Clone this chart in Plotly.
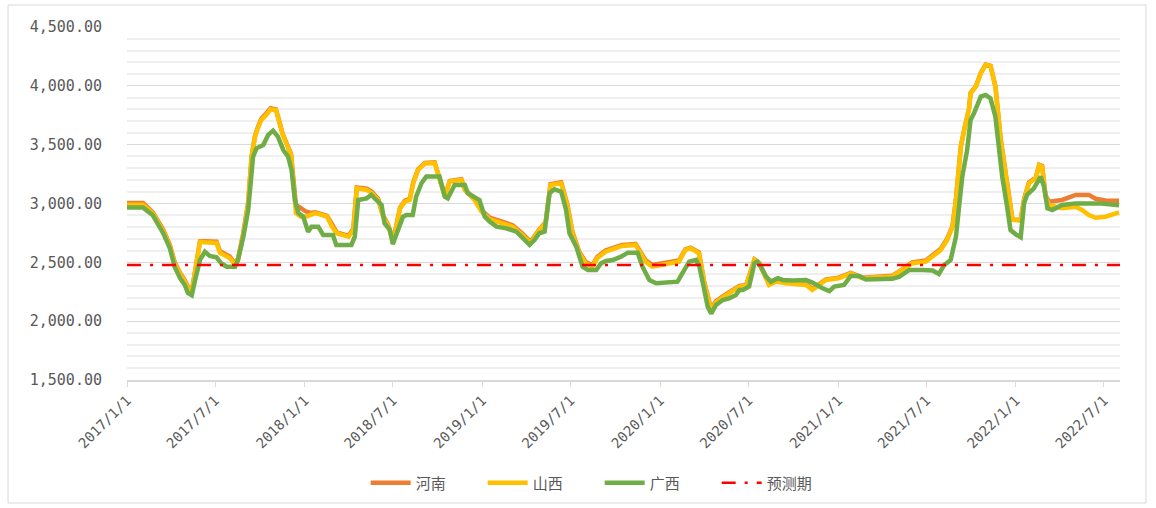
import plotly.graph_objects as go

# ---- data ----
gx_dates = ["2017-01-01","2017-02-03","2017-02-23","2017-03-16","2017-03-30","2017-04-09","2017-04-20","2017-04-30",
            "2017-05-06","2017-05-14","2017-05-21","2017-05-31","2017-06-10","2017-06-20","2017-07-04","2017-07-14",
            "2017-07-25","2017-08-11","2017-08-17","2017-08-28","2017-09-07","2017-09-17","2017-09-24","2017-10-08",
            "2017-10-18","2017-10-28","2017-11-07","2017-11-18","2017-11-28","2017-12-05","2017-12-12","2017-12-19",
            "2017-12-29","2018-01-08","2018-01-15","2018-01-29","2018-02-08","2018-02-28","2018-03-07","2018-04-07",
            "2018-04-14","2018-04-21","2018-05-08","2018-05-18","2018-05-28","2018-06-08","2018-06-14","2018-06-25",
            "2018-07-01","2018-07-12","2018-07-22","2018-07-29","2018-08-11","2018-08-18","2018-08-29","2018-09-08",
            "2018-10-05","2018-10-16","2018-10-22","2018-11-05","2018-11-26","2018-12-02","2018-12-16","2018-12-26",
            "2019-01-06","2019-01-16","2019-01-30","2019-02-19","2019-03-12","2019-03-29","2019-04-08","2019-04-18",
            "2019-04-28","2019-05-09","2019-05-19","2019-05-29","2019-06-12","2019-06-22","2019-06-29","2019-07-13",
            "2019-07-26","2019-08-06","2019-08-23","2019-09-02","2019-09-12","2019-09-26","2019-10-13","2019-10-27",
            "2019-11-16","2019-11-26","2019-12-10","2019-12-24","2020-02-06","2020-02-20","2020-03-01","2020-03-15",
            "2020-03-22","2020-04-01","2020-04-08","2020-04-15","2020-04-25","2020-05-09","2020-05-22","2020-06-05",
            "2020-06-12","2020-06-19","2020-07-02","2020-07-13","2020-07-19","2020-07-26","2020-08-06","2020-08-16",
            "2020-08-30","2020-09-09","2020-09-29","2020-10-27","2020-11-09","2020-11-30","2020-12-14","2020-12-24",
            "2021-01-13","2021-01-27","2021-02-13","2021-02-27","2021-04-22","2021-05-06","2021-05-27","2021-06-23",
            "2021-07-14","2021-07-27","2021-08-07","2021-08-20","2021-08-31","2021-09-05","2021-09-13","2021-09-23",
            "2021-09-30","2021-10-07","2021-10-21","2021-10-31","2021-11-10","2021-11-20","2021-11-27","2021-12-04",
            "2021-12-14","2021-12-21","2022-01-01","2022-01-11","2022-01-18","2022-01-24","2022-02-07","2022-02-21",
            "2022-02-28","2022-03-07","2022-03-17","2022-04-06","2022-05-04","2022-06-21","2022-08-01"]
guangxi = [2965,2965,2900,2750,2620,2460,2365,2305,
           2240,2220,2350,2520,2590,2555,2543,2490,
           2463,2463,2520,2718,2945,3398,3469,3497,
           3583,3619,3568,3455,3398,3285,3030,2920,
           2888,2760,2803,2803,2733,2733,2648,2648,
           2718,3030,3043,3073,3030,2988,2832,2775,
           2655,2775,2888,2902,2902,3058,3172,3229,
           3229,3058,3043,3158,3158,3087,3058,3030,
           2888,2846,2803,2789,2761,2690,2648,2690,
           2747,2761,3087,3121,3101,2945,2747,2633,
           2463,2435,2435,2492,2512,2520,2548,2582,
           2582,2463,2350,2322,2336,2435,2506,2520,
           2463,2265,2123,2065,2137,2180,2194,2222,
           2265,2265,2294,2492,2506,2463,2379,2336,
           2365,2350,2345,2350,2328,2280,2256,2294,
           2308,2384,2384,2355,2360,2375,2435,2435,
           2430,2401,2478,2520,2718,2917,3229,3455,
           3710,3767,3909,3923,3894,3738,3455,3229,
           2973,2775,2738,2713,3001,3073,3129,3229,
           3143,2959,2945,2988,3001,3001,2985]

sx_dates = ["2017-01-01","2017-02-03","2017-02-23","2017-03-16","2017-03-30","2017-04-09","2017-04-20","2017-04-30",
            "2017-05-08","2017-05-15","2017-05-21","2017-05-31","2017-06-10","2017-07-04","2017-07-11","2017-07-31",
            "2017-08-11","2017-08-17","2017-08-28","2017-09-07","2017-09-14","2017-09-21","2017-09-27","2017-10-04",
            "2017-10-14","2017-10-23","2017-11-03","2017-11-10","2017-11-17","2017-11-27","2017-12-04","2017-12-14",
            "2017-12-24","2018-01-03","2018-01-12","2018-01-23","2018-02-16","2018-02-26","2018-03-08","2018-04-01",
            "2018-04-11","2018-04-18","2018-05-09","2018-05-19","2018-06-01","2018-06-11","2018-06-22","2018-06-28",
            "2018-07-02","2018-07-16","2018-07-26","2018-08-05","2018-08-12","2018-08-22","2018-09-05","2018-09-25",
            "2018-10-06","2018-10-16","2018-10-26","2018-11-19","2018-11-26","2018-12-16","2018-12-30","2019-01-16",
            "2019-02-11","2019-03-04","2019-03-24","2019-04-10","2019-04-28","2019-05-11","2019-05-21","2019-06-12",
            "2019-06-25","2019-07-05","2019-07-19","2019-08-01","2019-08-15","2019-08-25","2019-09-11","2019-10-02",
            "2019-10-15","2019-11-12","2019-11-22","2019-12-02","2019-12-16","2020-01-05","2020-02-09","2020-02-22",
            "2020-03-04","2020-03-21","2020-03-28","2020-04-01","2020-04-15","2020-04-25","2020-05-16","2020-06-12",
            "2020-06-26","2020-07-13","2020-07-23","2020-08-12","2020-08-26","2020-09-16","2020-10-27","2020-11-09",
            "2020-12-07","2021-01-02","2021-01-27","2021-02-20","2021-04-22","2021-05-13","2021-06-02","2021-06-30",
            "2021-07-21","2021-07-31","2021-08-13","2021-08-24","2021-08-31","2021-09-10","2021-09-17","2021-09-27",
            "2021-09-30","2021-10-11","2021-10-21","2021-10-31","2021-11-10","2021-11-20","2021-12-01","2021-12-11",
            "2021-12-21","2021-12-25","2022-01-11","2022-01-18","2022-01-28","2022-02-11","2022-02-18","2022-02-24",
            "2022-03-03","2022-03-10","2022-04-06","2022-05-04","2022-05-17","2022-05-31","2022-06-14","2022-07-04",
            "2022-08-01"]
shanxi = [2990,2990,2915,2770,2640,2490,2400,2335,
          2265,2270,2420,2675,2670,2665,2580,2537,
          2478,2520,2740,3000,3398,3568,3642,3710,
          3752,3800,3795,3684,3582,3483,3412,2918,
          2888,2888,2900,2918,2888,2803,2747,2718,
          2775,3129,3115,3087,3030,2888,2803,2718,
          2676,2959,3016,3030,3172,3285,3341,3345,
          3200,3058,3186,3200,3115,3030,2934,2868,
          2832,2803,2733,2662,2775,2832,3158,3172,
          2973,2747,2577,2492,2463,2534,2591,2619,
          2639,2648,2577,2506,2463,2478,2506,2605,
          2620,2577,2400,2322,2095,2160,2222,2294,
          2300,2520,2490,2308,2336,2322,2308,2265,
          2350,2365,2406,2365,2379,2435,2492,2506,
          2577,2605,2690,2803,3030,3483,3625,3809,
          3937,3994,4108,4178,4169,3994,3540,3229,
          2945,2860,2855,3030,3172,3214,3328,3313,
          3058,2988,2959,2973,2945,2902,2879,2888,
          2925]
henan = [3005,3005,2925,2780,2650,2500,2410,2345,
         2275,2280,2430,2680,2680,2675,2595,2550,
         2490,2530,2750,3010,3400,3575,3650,3720,
         3765,3810,3800,3690,3590,3490,3420,2988,
         2960,2934,2920,2925,2895,2815,2755,2725,
         2785,3135,3125,3100,3040,2900,2815,2730,
         2690,2965,3025,3040,3180,3290,3345,3350,
         3205,3065,3190,3205,3120,3040,2945,2880,
         2845,2815,2745,2675,2780,2840,3165,3180,
         2985,2760,2590,2505,2475,2545,2600,2630,
         2648,2655,2590,2520,2478,2490,2515,2610,
         2625,2585,2410,2330,2105,2170,2230,2300,
         2305,2525,2495,2315,2342,2330,2315,2275,
         2355,2370,2410,2370,2385,2440,2500,2515,
         2585,2615,2700,2810,3035,3485,3630,3810,
         3940,3998,4110,4180,4170,3998,3545,3235,
         2950,2865,2860,3040,3180,3220,3330,3320,
         3070,3016,3030,3073,3073,3073,3040,3025,
         3023]

forecast_level = 2478
x_start, x_end = "2017-01-01", "2022-08-03"

tick_vals = ["2017-01-01","2017-07-01","2018-01-01","2018-07-01","2019-01-01","2019-07-01",
             "2020-01-01","2020-07-01","2021-01-01","2021-07-01","2022-01-01","2022-07-01"]
tick_text = ["2017/1/1","2017/7/1","2018/1/1","2018/7/1","2019/1/1","2019/7/1",
             "2020/1/1","2020/7/1","2021/1/1","2021/7/1","2022/1/1","2022/7/1"]

# ---- figure ----
fig = go.Figure()
fig.add_trace(go.Scatter(x=sx_dates, y=henan, name="河南", mode="lines",
                         line=dict(color="#ED7D31", width=4.5)))
fig.add_trace(go.Scatter(x=sx_dates, y=shanxi, name="山西", mode="lines",
                         line=dict(color="#FFC000", width=4.5)))
fig.add_trace(go.Scatter(x=gx_dates, y=guangxi, name="广西", mode="lines",
                         line=dict(color="#70AD47", width=4.5)))
fig.add_trace(go.Scatter(x=[x_start, x_end], y=[forecast_level, forecast_level], name="预测期",
                         mode="lines", line=dict(color="#FF0000", width=2.5, dash="14px,9px,3px,9px")))

font_gray = "#595959"
mono = "DejaVu Sans Mono, monospace"
fig.update_layout(
    width=1156, height=508,
    margin=dict(l=127, r=36, t=27, b=128, autoexpand=False),
    paper_bgcolor="white", plot_bgcolor="white",
    font=dict(family="Noto Sans CJK SC, DejaVu Sans, sans-serif", color=font_gray),
    showlegend=True,
    legend=dict(orientation="h", x=0.476, xanchor="center", y=-0.292, yanchor="middle",
                font=dict(size=15, color=font_gray), entrywidth=62, entrywidthmode="pixels",
                itemwidth=40, bgcolor="rgba(0,0,0,0)"),
    xaxis=dict(type="date", range=[x_start, x_end], tickvals=tick_vals, ticktext=tick_text,
               tickangle=-45, tickfont=dict(size=14, color=font_gray, family=mono), automargin=False,
               showgrid=False, showline=True, linecolor="#D9D9D9", linewidth=1.5,
               ticks="outside", ticklen=5, tickcolor="#D9D9D9", zeroline=False),
    yaxis=dict(range=[1500, 4500], dtick=500, tick0=1500, tickformat=",.2f", automargin=False,
               tickfont=dict(size=15, color=font_gray, family=mono),
               showgrid=True, gridcolor="#D9D9D9", gridwidth=1.2, zeroline=False,
               ticks="", ticklabelstandoff=24,
               minor=dict(dtick=100, showgrid=True, gridcolor="#EFEFEF", gridwidth=1.5)),
    shapes=[dict(type="rect", xref="paper", yref="paper", x0=-0.1198, x1=1.0262, y0=-0.3484, y1=1.0623,
                 line=dict(color="#D9D9D9", width=1), fillcolor="rgba(0,0,0,0)", layer="below")],
)

fig.write_html("out.html", config={"displayModeBar": False},
               post_script="document.body.style.margin='0';document.body.style.overflow='hidden';")
